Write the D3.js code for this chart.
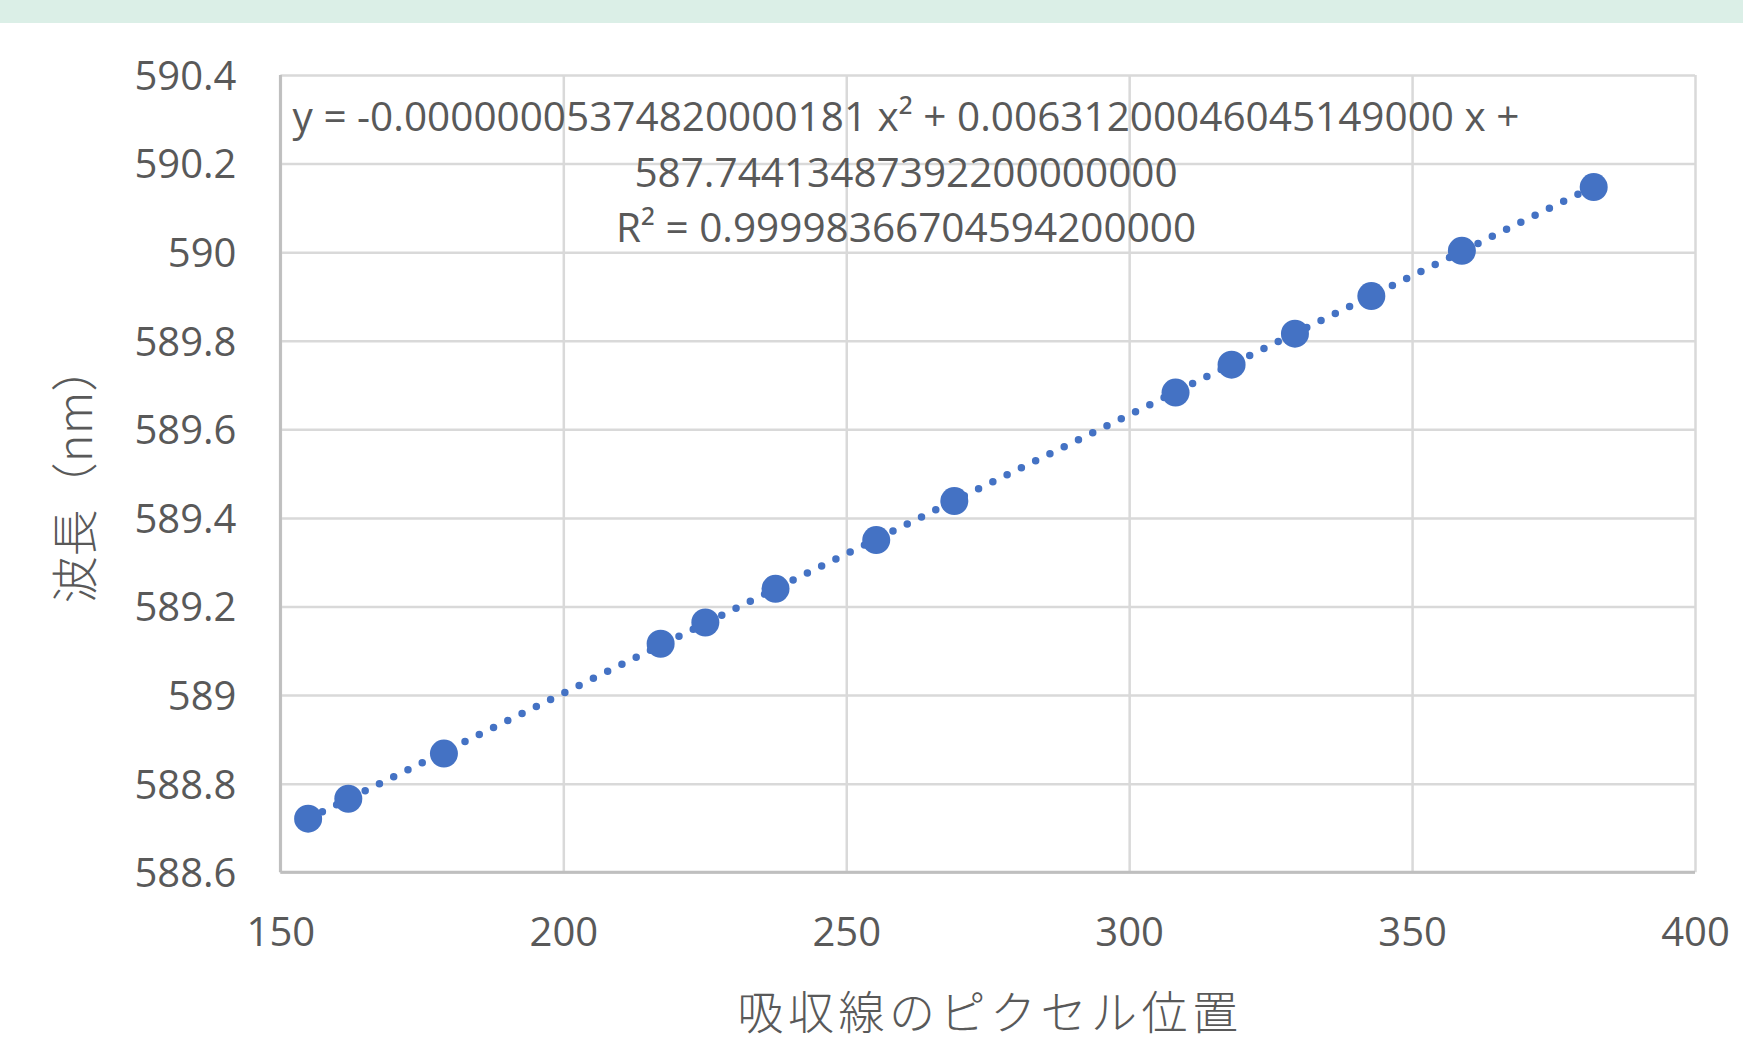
<!DOCTYPE html>
<html>
<head>
<meta charset="utf-8">
<script src="https://cdn.jsdelivr.net/npm/d3@7"></script>
<style>
  body { margin: 0; background: #ffffff; }
  svg { display: block; }
</style>
</head>
<body>
<svg id="chart" width="1743" height="1046"></svg>
<script>
// Absorption line pixel positions and their calibrated wavelengths (nm)
const pixelPos = [154.9, 162.0, 178.9, 217.2, 225.1, 237.5, 255.3, 269.1, 308.2, 318.1, 329.3, 342.8, 358.8, 382.1];
const wavelength = [588.721, 588.766, 588.868, 589.116, 589.164, 589.240, 589.350, 589.438, 589.683, 589.746, 589.816, 589.901, 590.003, 590.147];

const xTicks = [150, 200, 250, 300, 350, 400];
const xTickLabels = ["150", "200", "250", "300", "350", "400"];
const yTicks = [588.6, 588.8, 589.0, 589.2, 589.4, 589.6, 589.8, 590.0, 590.2, 590.4];
const yTickLabels = ["588.6", "588.8", "589", "589.2", "589.4", "589.6", "589.8", "590", "590.2", "590.4"];

// Second order polynomial fit: y = a x^2 + b x + c
const fitCoef = [-0.00000005374820000181, 0.00631200046045149, 587.744134873922];
const fitLabel = [
  "y = -0.00000005374820000181 x² + 0.00631200046045149000 x +",
  "587.74413487392200000000",
  "R² = 0.99998366704594200000"
];

const xTitle = "吸収線のピクセル位置";
const yTitle = "波長（nm）";

const W = 1743, H = 1046;
const plot = { left: 280.4, right: 1695, top: 75, bottom: 872.3 };

const svg = d3.select("#chart");
svg.append("rect").attr("width", W).attr("height", H).attr("fill", "#ffffff");
// header band
svg.append("rect").attr("x", 0).attr("y", 0).attr("width", W).attr("height", 23).attr("fill", "#dbefe7");

const x = d3.scaleLinear().domain([150, 400]).range([plot.left, plot.right]);
const y = d3.scaleLinear().domain([588.6, 590.4]).range([plot.bottom, plot.top]);

const tickFont = "'Open Sans', 'Noto Sans', sans-serif";
const textColor = "#595959";

// horizontal gridlines + y labels
const yAxis = d3.axisLeft(y)
  .tickValues(yTicks)
  .tickFormat((d, i) => yTickLabels[i])
  .tickSize(-(plot.right - plot.left))
  .tickPadding(0);
const gy = svg.append("g").attr("transform", `translate(${plot.left},0)`).call(yAxis);
gy.select(".domain").remove();
gy.selectAll(".tick line").attr("stroke", "#d9d9d9").attr("stroke-width", 2.5);
gy.selectAll(".tick text")
  .attr("x", -44).attr("dy", "0.36em")
  .attr("fill", textColor)
  .style("font-family", tickFont).style("font-size", "40px");

// vertical gridlines + x labels
const xAxis = d3.axisBottom(x)
  .tickValues(xTicks)
  .tickFormat((d, i) => xTickLabels[i])
  .tickSize(-(plot.bottom - plot.top))
  .tickPadding(0);
const gx = svg.append("g").attr("transform", `translate(0,${plot.bottom})`).call(xAxis);
gx.select(".domain").remove();
gx.selectAll(".tick line").attr("stroke", "#d9d9d9").attr("stroke-width", 2.5);
gx.selectAll(".tick text")
  .attr("y", 59).attr("dy", "0.36em")
  .attr("fill", textColor)
  .style("font-family", tickFont).style("font-size", "40px");

// axis lines
svg.append("line")
  .attr("x1", plot.left).attr("x2", plot.left)
  .attr("y1", plot.top).attr("y2", plot.bottom)
  .attr("stroke", "#bfbfbf").attr("stroke-width", 3);
svg.append("line")
  .attr("x1", plot.left).attr("x2", plot.right)
  .attr("y1", plot.bottom).attr("y2", plot.bottom)
  .attr("stroke", "#bfbfbf").attr("stroke-width", 3);

// polynomial trendline across the data range
const fit = v => fitCoef[0] * v * v + fitCoef[1] * v + fitCoef[2];
const xMin = d3.min(pixelPos), xMax = d3.max(pixelPos);
const trend = d3.range(0, 201).map(i => xMin + (xMax - xMin) * i / 200);
svg.append("path")
  .datum(trend)
  .attr("d", d3.line().x(d => x(d)).y(d => y(fit(d))))
  .attr("fill", "none")
  .attr("stroke", "#4472c4")
  .attr("stroke-width", 7.5)
  .attr("stroke-linecap", "round")
  .attr("stroke-dasharray", "0 15.9");

// data markers
svg.append("g").selectAll("circle")
  .data(pixelPos)
  .join("circle")
  .attr("cx", d => x(d))
  .attr("cy", (d, i) => y(wavelength[i]))
  .attr("r", 14)
  .attr("fill", "#4472c4");

// fit equation label
const eq = svg.append("text")
  .attr("text-anchor", "middle")
  .attr("fill", textColor)
  .style("font-family", tickFont).style("font-size", "40.5px");
fitLabel.forEach((t, i) => {
  eq.append("tspan").attr("x", 906).attr("y", 131 + i * 55.5).text(t);
});

// axis titles
const titleFont = "'Noto Sans CJK JP', 'Noto Sans', sans-serif";
svg.append("text")
  .attr("x", 990).attr("y", 1029)
  .attr("text-anchor", "middle")
  .attr("fill", textColor)
  .style("font-family", titleFont).style("font-size", "46px").style("font-weight", 300)
  .style("letter-spacing", "4.5px")
  .text(xTitle);

svg.append("text")
  .attr("transform", "translate(92,474) rotate(-90)")
  .attr("text-anchor", "middle")
  .attr("fill", textColor)
  .style("font-family", titleFont).style("font-size", "47px").style("font-weight", 300)
  .text(yTitle);
</script>
</body>
</html>
